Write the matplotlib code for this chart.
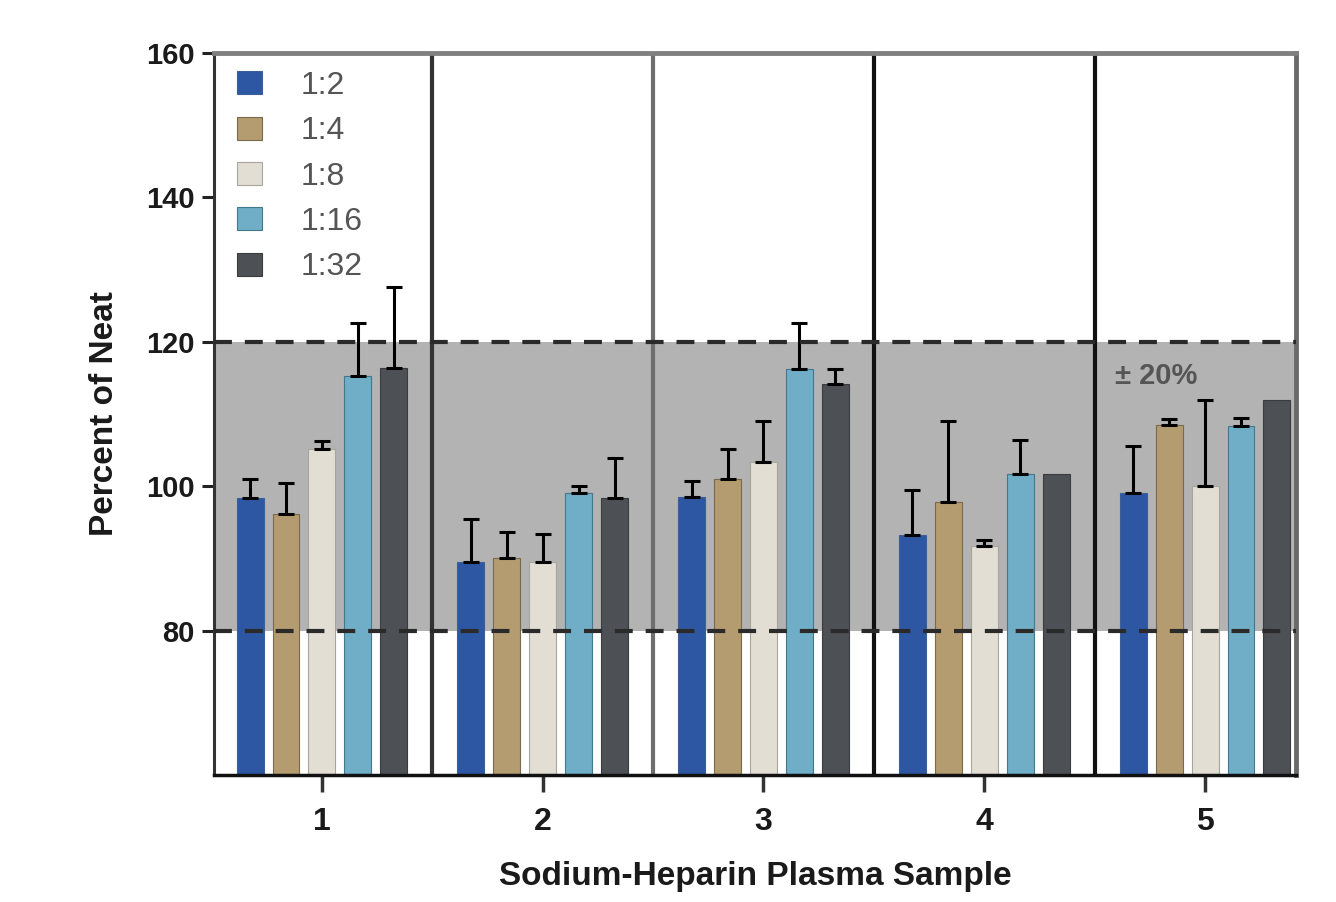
import matplotlib
matplotlib.use("Agg")
import matplotlib.pyplot as plt
import numpy as np

plt.rcParams['font.family'] = ['Liberation Sans', 'DejaVu Sans']

samples = ["1", "2", "3", "4", "5"]
dilutions = ["1:2", "1:4", "1:8", "1:16", "1:32"]
colors = ["#2e57a3", "#b59c70", "#e2ded3", "#70aec8", "#4d5055"]
edge_colors = ["#3c5f9a", "#7a6a4c", "#a8a59c", "#44778c", "#3a3c40"]

v_1_2 = [98.4, 89.5, 98.5, 93.2, 99.0]
v_1_4 = [96.2, 90.0, 101.0, 97.8, 108.5]
v_1_8 = [105.2, 89.5, 103.4, 91.7, 100.0]
v_1_16 = [115.2, 99.0, 116.3, 101.7, 108.4]
v_1_32 = [116.4, 98.3, 114.1, 101.7, 111.9]

e_1_2 = [2.6, 6.0, 2.2, 6.3, 6.5]
e_1_4 = [4.2, 3.7, 4.1, 11.2, 0.8]
e_1_8 = [1.0, 3.9, 5.6, 0.8, 11.9]
e_1_16 = [7.4, 1.0, 6.3, 4.7, 1.0]
e_1_32 = [11.2, 5.6, 2.1, 0.0, 0.0]

values = [v_1_2, v_1_4, v_1_8, v_1_16, v_1_32]
errors = [e_1_2, e_1_4, e_1_8, e_1_16, e_1_32]

yticks = [80, 100, 120, 140, 160]

fig = plt.figure(figsize=(13.36, 9.02), dpi=100)
ax = fig.add_axes([214/1336, 1-775/902, (1296-214)/1336, (775-53)/902])

x = np.arange(len(samples))
step = 36/221
width = 27/221

ax.axhspan(80, 120, color="#b3b3b3", zorder=0, lw=0)

for i, (vals, errs) in enumerate(zip(values, errors)):
    pos = x + (i - 2) * step
    ax.bar(pos, vals, width=width, color=colors[i], edgecolor=edge_colors[i],
           linewidth=0.8, label=dilutions[i], zorder=2)
    errs_arr = np.array(errs)
    mask = errs_arr > 0
    ax.errorbar(pos[mask], np.array(vals)[mask],
                yerr=[np.zeros(mask.sum()), errs_arr[mask]],
                fmt='none', ecolor='black', elinewidth=2.2, capsize=6,
                capthick=2.2, zorder=3)

for yy in (80, 120):
    ax.axhline(yy, color="#2a2a2a", lw=3, ls=(0, (4.3, 3.1)), zorder=4)

div_colors = ["#333333", "#6e6e6e", "#111111", "#111111"]
for k, c in zip(range(4), div_colors):
    ax.axvline(k + 0.5, color=c, lw=3, zorder=1.5)

ax.set_xlim(-0.489, 4.412)
ax.set_ylim(60, 160)
ax.set_yticks(yticks)
ax.set_yticklabels([str(t) for t in yticks])
ax.set_xticks(x)
ax.set_xticklabels(samples)

ax.spines['top'].set_color("#808080")
ax.spines['top'].set_linewidth(3.5)
ax.spines['right'].set_color("#6a6a6a")
ax.spines['right'].set_linewidth(3.5)
ax.spines['left'].set_color("#333333")
ax.spines['left'].set_linewidth(2.2)
ax.spines['bottom'].set_color("#111111")
ax.spines['bottom'].set_linewidth(2.5)

ax.tick_params(axis='y', length=9, width=2.2, color="#222222", labelsize=21,
               pad=5)
ax.tick_params(axis='x', length=12, width=2.5, color="#333333", labelsize=23,
               pad=11)
for lab in ax.get_yticklabels() + ax.get_xticklabels():
    lab.set_fontweight('bold')
    lab.set_color("#1a1a1a")

ax.set_xlabel("Sodium-Heparin Plasma Sample", fontsize=24, fontweight='bold',
              labelpad=17, color="#1a1a1a")
ax.set_ylabel("Percent of Neat", fontsize=24, fontweight='bold', labelpad=19,
              color="#1a1a1a")

ax.text(3.59, 115.3, "± 20%", fontsize=21, fontweight='bold', color="#555555",
        va='center', ha='left', zorder=5)

leg = ax.legend(loc='upper left', bbox_to_anchor=(0.0215, 0.975), frameon=False,
                fontsize=23, handlelength=0.78, handleheight=0.72,
                handletextpad=1.19, labelspacing=0.48, borderpad=0,
                borderaxespad=0)
for t in leg.get_texts():
    t.set_color("#555555")

fig.savefig("out.png", dpi=100)
